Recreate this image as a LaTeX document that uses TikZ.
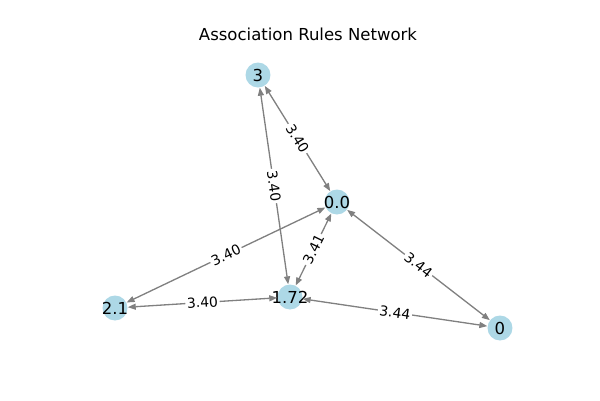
\documentclass[tikz,border=0pt]{standalone}
\usepackage{fontspec}
\setmainfont{DejaVu Sans}
\usetikzlibrary{arrows.meta}
\definecolor{itemblue}{RGB}{173,216,230}
\begin{document}
\begin{tikzpicture}[x=0.02cm,y=-0.02cm,
  item/.style={circle,fill=itemblue,minimum size=0.5cm,inner sep=0pt,font=\fontsize{9.4}{10}\selectfont},
  rule/.style={<->,draw=gray,line width=0.75pt,>={Triangle[length=4.5pt,width=3.4pt]}},
  weight/.style={midway,sloped,fill=white,inner sep=1pt,rounded corners=2pt,font=\fontsize{7.9}{9}\selectfont}]
  \useasboundingbox (0,0) rectangle (600,400);
  \node[font=\fontsize{9.4}{11}\selectfont] (title) at (308,34) {Association Rules Network};
  % the items
  \node[item] (n3) at (258,75) {\makebox[0pt]{3}};
  \node[item] (n00) at (337,202) {\makebox[0pt]{0.0}};
  \node[item] (n21) at (115,308) {\makebox[0pt]{2.1}};
  \node[item] (n172) at (290,297) {\makebox[0pt]{1.72}};
  \node[item] (n0) at (500,328) {\makebox[0pt]{0}};
  % the rules
  \draw[rule] (n3) -- node[weight]{3.40} (n00);
  \draw[rule] (n3) -- node[weight]{3.40} (n172);
  \draw[rule] (n00) -- node[weight]{3.40} (n21);
  \draw[rule] (n00) -- node[weight]{3.41} (n172);
  \draw[rule] (n00) -- node[weight]{3.44} (n0);
  \draw[rule] (n21) -- node[weight]{3.40} (n172);
  \draw[rule] (n172) -- node[weight]{3.44} (n0);
\end{tikzpicture}
\end{document}
